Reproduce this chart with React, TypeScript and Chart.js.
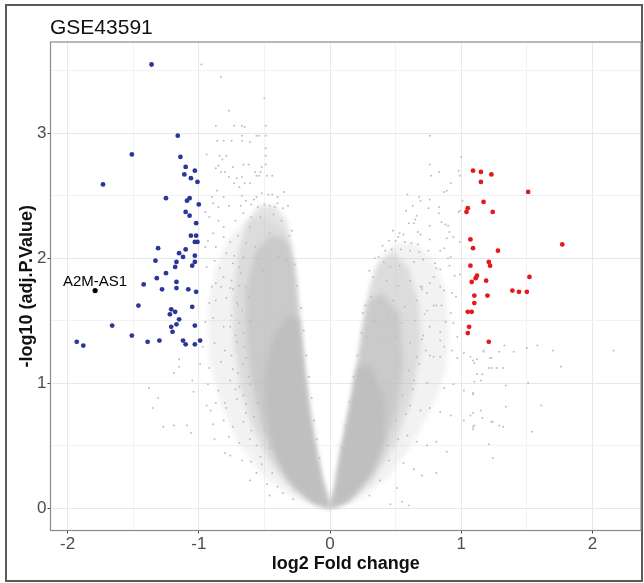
import React, { useEffect, useRef } from 'react';
import { Chart, registerables } from 'chart.js';

// soft edges for the density bands: blur only while the Filler plugin paints them
const bandBlurOn = {
  id: 'bandBlurOn',
  beforeDatasetsDraw(chart: any) {
    chart.ctx.save();
    chart.ctx.filter = 'blur(2.5px)';
  },
};
const bandBlurOff = {
  id: 'bandBlurOff',
  beforeDatasetsDraw(chart: any) {
    chart.ctx.restore();
  },
};
Chart.register(bandBlurOn as any, ...registerables, bandBlurOff as any);

// ---- axis ticks (major = integers, minor = halves) ----
const xTickValues = [-2, -1.5, -1, -0.5, 0, 0.5, 1, 1.5, 2];
const yTickValues = [0, 0.5, 1, 1.5, 2, 2.5, 3, 3.5];

const titleText = 'GSE43591';
const xTitle = 'log2 Fold change';
const yTitle = '-log10 (adj.P.Value)';

// ---- significant genes ----
const downGenes: [number, number][] = [
  [-1.36, 3.55], [-1.16, 2.98], [-1.51, 2.83], [-1.14, 2.81], [-1.10, 2.73], [-1.03, 2.70], [-1.11, 2.67],
  [-1.06, 2.64], [-1.01, 2.61], [-1.73, 2.59], [-1.25, 2.48], [-1.07, 2.48], [-1.09, 2.46], [-1.00, 2.43],
  [-1.10, 2.37], [-1.07, 2.34], [-1.02, 2.28], [-1.06, 2.18], [-1.02, 2.18], [-1.03, 2.13], [-1.01, 2.13],
  [-1.31, 2.08], [-1.10, 2.07], [-1.15, 2.04], [-1.33, 1.98], [-1.12, 2.01], [-1.17, 1.97], [-1.03, 2.02],
  [-1.03, 1.97], [-1.05, 1.94], [-1.18, 1.93], [-1.25, 1.88], [-1.32, 1.84], [-1.17, 1.81], [-1.17, 1.76],
  [-1.42, 1.79], [-1.28, 1.75], [-1.08, 1.75], [-1.02, 1.73], [-1.46, 1.62], [-1.05, 1.61], [-1.21, 1.59],
  [-1.18, 1.57], [-1.22, 1.55], [-1.15, 1.51], [-1.17, 1.47], [-1.21, 1.45], [-1.03, 1.46], [-1.66, 1.46],
  [-1.20, 1.41], [-1.51, 1.38], [-1.39, 1.33], [-1.30, 1.34], [-1.12, 1.34], [-1.10, 1.31], [-1.03, 1.31],
  [-0.99, 1.34], [-1.93, 1.33], [-1.88, 1.30],
];

const upGenes: [number, number][] = [
  [1.09, 2.70], [1.15, 2.69], [1.23, 2.67], [1.15, 2.61], [1.51, 2.53], [1.17, 2.45], [1.05, 2.40],
  [1.04, 2.37], [1.24, 2.37], [1.07, 2.15], [1.77, 2.11], [1.09, 2.08], [1.28, 2.06], [1.21, 1.97],
  [1.22, 1.94], [1.07, 1.94], [1.12, 1.86], [1.11, 1.84], [1.52, 1.85], [1.08, 1.81], [1.19, 1.82],
  [1.39, 1.74], [1.44, 1.73], [1.50, 1.73], [1.10, 1.70], [1.20, 1.70], [1.10, 1.64], [1.05, 1.57],
  [1.08, 1.57], [1.06, 1.45], [1.05, 1.40], [1.21, 1.33],
];

const labelledGeneName = 'A2M-AS1';
const labelledGene: [number, number][] = [[-1.79, 1.74]];

// ---- non-significant genes: scattered points ----
const greyLeftUpper: [number, number][] = [
  [-0.98, 3.55], [-0.83, 3.45], [-0.50, 3.28], [-0.77, 3.18], [-0.87, 3.06], [-0.73, 3.06], [-0.67, 3.06],
  [-0.65, 3.05], [-0.49, 3.06], [-0.56, 2.98], [-0.54, 2.98], [-0.67, 2.98], [-0.49, 2.98], [-0.86, 2.94],
  [-0.81, 2.94], [-0.75, 2.94], [-0.67, 2.94], [-0.61, 2.93], [-0.49, 2.88], [-0.94, 2.83], [-0.84, 2.82],
  [-0.79, 2.82], [-0.49, 2.82], [-0.82, 2.79], [-0.85, 2.74], [-0.74, 2.73], [-0.66, 2.75], [-0.62, 2.75],
  [-0.52, 2.73], [-0.87, 2.72], [-0.57, 2.69], [-0.53, 2.69], [-0.49, 2.75], [-0.83, 2.69], [-0.80, 2.69],
  [-0.56, 2.66], [-0.54, 2.66], [-0.48, 2.66], [-0.44, 2.66], [-0.77, 2.65], [-0.71, 2.64], [-0.67, 2.65],
  [-0.73, 2.60], [-0.65, 2.60], [-0.61, 2.60], [-0.86, 2.54], [-0.69, 2.57], [-0.35, 2.53], [-0.47, 2.51],
  [-0.44, 2.51], [-0.40, 2.49], [-0.90, 2.49], [-0.81, 2.49], [-0.67, 2.50], [-0.64, 2.46], [-0.56, 2.49],
  [-0.77, 2.42], [-0.68, 2.42], [-0.60, 2.43], [-0.55, 2.41], [-0.50, 2.43], [-0.46, 2.42], [-0.42, 2.41],
  [-0.32, 2.42], [-0.89, 2.44], [-0.85, 2.41], [-0.95, 2.37], [-0.92, 2.33], [-0.85, 2.30], [-0.81, 2.25],
  [-0.89, 2.20], [-0.93, 2.14], [-0.95, 2.09], [-0.87, 2.09], [-0.81, 2.17], [-0.76, 2.13], [-0.79, 2.04],
  [-0.88, 1.98], [-0.94, 1.93], [-0.84, 1.92], [-0.74, 1.96], [-0.66, 2.01], [-0.69, 1.93], [-0.81, 1.85],
  [-0.75, 1.82], [-0.87, 1.80], [-0.53, 2.33], [-0.43, 2.35], [-0.37, 2.30], [-0.31, 2.18], [-0.46, 2.20],
  [-0.61, 2.25], [-0.57, 2.09], [-0.39, 2.01], [-0.33, 1.98], [-0.51, 1.90],
  [-0.72, 2.30], [-0.66, 2.36], [-0.60, 2.33], [-0.70, 2.18], [-0.64, 2.12], [-0.73, 2.02], [-0.68, 1.88],
  [-0.29, 2.22], [-0.27, 1.95], [-0.36, 2.40], [-0.58, 2.47], [-0.52, 2.52], [-0.40, 2.44],
];

const greyLeftLower: [number, number][] = [
  [-0.90, 1.77], [-0.83, 1.77], [-0.76, 1.76], [-0.69, 1.78], [-0.64, 1.77], [-0.92, 1.64], [-0.87, 1.66],
  [-0.79, 1.68], [-0.71, 1.64], [-0.62, 1.69], [-0.95, 1.49], [-0.89, 1.52], [-0.81, 1.45], [-0.75, 1.54],
  [-0.69, 1.48], [-0.61, 1.50], [-0.97, 1.29], [-0.88, 1.32], [-0.80, 1.26], [-0.71, 1.33], [-0.65, 1.29],
  [-0.99, 1.15], [-0.92, 1.12], [-0.83, 1.17], [-0.74, 1.11], [-0.66, 1.15], [-1.04, 0.93], [-0.93, 0.99],
  [-0.85, 0.94], [-0.76, 1.02], [-0.69, 0.97], [-0.61, 0.99], [-0.94, 0.82], [-0.87, 0.84], [-0.79, 0.80],
  [-0.71, 0.87], [-0.64, 0.83], [-0.89, 0.67], [-0.81, 0.70], [-0.74, 0.65], [-0.66, 0.69], [-0.58, 0.73],
  [-0.88, 0.55], [-0.77, 0.57], [-0.69, 0.52], [-0.61, 0.55], [-0.76, 0.42], [-0.67, 0.38], [-0.60, 0.37],
  [-0.53, 0.41], [-0.61, 0.22], [-0.48, 0.19], [-0.40, 0.17],
  [-1.15, 1.19], [-1.15, 1.13], [-1.19, 1.08], [-1.38, 0.96], [-1.31, 0.88], [-1.35, 0.80], [-1.27, 0.65],
  [-1.19, 0.66], [-1.06, 0.60], [-1.09, 0.66], [-0.91, 0.78], [-0.80, 0.84], [-0.80, 0.44], [-1.05, 1.02],
  [-0.74, 1.75], [-0.70, 1.62], [-0.76, 1.45], [-0.72, 1.38], [-0.75, 1.22], [-0.70, 1.08], [-0.72, 0.95],
  [-0.66, 0.90], [-0.64, 0.76], [-0.60, 0.62], [-0.56, 0.50], [-0.52, 0.35], [-0.44, 0.28], [-0.36, 0.12],
  [-0.25, 1.78], [-0.22, 1.60], [-0.20, 1.42], [-0.18, 1.22], [-0.16, 1.05], [-0.14, 0.88], [-0.12, 0.70],
  [-0.10, 0.55], [-0.08, 0.40], [-0.67, 1.58], [-0.66, 1.40], [-0.64, 1.20], [-0.62, 1.05], [-0.55, 0.84],
  [-0.50, 0.62], [-0.46, 0.48], [-0.28, 0.07], [-0.56, 0.28], [-0.46, 0.10],
];

const greyRightUpper: [number, number][] = [
  [0.76, 2.98], [1.00, 2.81], [0.76, 2.75], [0.83, 2.69], [0.77, 2.66], [0.98, 2.70], [0.99, 2.66],
  [0.92, 2.60], [0.89, 2.54], [0.87, 2.53], [0.59, 2.51], [0.68, 2.49], [0.69, 2.46], [1.01, 2.46],
  [0.76, 2.47], [0.75, 2.40], [0.83, 2.41], [0.83, 2.36], [0.99, 2.38], [0.98, 2.37], [0.66, 2.34],
  [0.65, 2.31], [0.85, 2.29], [0.88, 2.27], [0.90, 2.26], [0.60, 2.28], [0.64, 2.28], [0.76, 2.26],
  [0.53, 2.20], [0.56, 2.19], [0.52, 2.17], [0.67, 2.21], [0.69, 2.19], [0.91, 2.21], [0.94, 2.17],
  [0.45, 2.14], [0.50, 2.14], [0.57, 2.13], [0.62, 2.12], [0.67, 2.11], [0.76, 2.15], [0.89, 2.16],
  [0.99, 2.13], [0.42, 2.06], [0.47, 2.07], [0.54, 2.07], [0.61, 2.06], [0.68, 2.05], [0.75, 2.06],
  [0.84, 2.06], [0.87, 2.08], [0.92, 2.01], [0.37, 2.01], [0.41, 1.97], [0.46, 1.93], [0.53, 1.94],
  [0.64, 1.97], [0.71, 1.99], [0.80, 1.96], [0.84, 1.91], [0.90, 2.00], [0.95, 1.86], [0.99, 1.87],
  [0.91, 1.94], [0.81, 1.92], [0.79, 1.85], [0.33, 1.85], [0.43, 1.82], [0.52, 1.78], [0.61, 1.82],
  [0.69, 1.77], [0.76, 1.80], [0.87, 1.74], [0.84, 1.77], [0.93, 1.72], [0.96, 1.69], [0.70, 1.77],
  [0.74, 1.72], [0.31, 1.69], [0.38, 1.64], [0.48, 1.66], [0.57, 1.61], [0.66, 1.66], [0.74, 1.58],
  [0.81, 1.62], [0.79, 1.62], [0.85, 1.62], [0.92, 1.56], [0.25, 1.56], [0.34, 1.50], [0.45, 1.53],
  [0.55, 1.48], [0.65, 1.50], [0.76, 1.45], [0.88, 1.49], [0.94, 1.48], [0.84, 1.41], [0.28, 1.37],
  [0.41, 1.34], [0.51, 1.37], [0.61, 1.32], [0.71, 1.38], [0.84, 1.34], [0.97, 1.37], [0.87, 1.29],
  [0.93, 1.26], [0.73, 1.26], [0.79, 1.21], [1.02, 1.24], [1.09, 1.18], [1.17, 1.25], [1.22, 1.20],
  [0.30, 1.90], [0.34, 2.00], [0.27, 1.62], [0.24, 1.40], [0.70, 1.75], [0.72, 1.55], [0.70, 1.35],
  [0.40, 2.10], [0.48, 2.22], [0.58, 2.38], [0.63, 2.42],
];

const greyRightLower: [number, number][] = [
  [0.66, 1.21], [0.76, 1.22], [0.84, 1.21], [0.97, 1.20], [1.07, 1.21], [1.12, 1.19], [0.64, 1.02],
  [0.74, 1.00], [0.87, 0.96], [0.94, 0.99], [1.02, 0.94], [1.09, 0.92], [0.61, 0.82], [0.69, 0.78],
  [0.76, 0.80], [0.84, 0.77], [0.92, 0.74], [1.02, 0.70], [1.09, 0.65], [0.59, 0.58], [0.66, 0.53],
  [0.74, 0.50], [0.81, 0.53], [0.89, 0.45], [0.56, 0.36], [0.64, 0.31], [0.70, 0.26], [0.81, 0.28],
  [0.51, 0.16], [0.55, 0.05], [0.60, 0.02], [0.46, 0.03],
  [1.33, 1.30], [1.50, 1.28], [1.58, 1.30], [1.70, 1.26], [2.16, 1.26], [1.40, 1.25], [1.29, 1.25],
  [1.17, 1.26], [1.76, 1.13], [1.23, 1.20], [1.10, 1.16], [1.21, 1.12], [1.23, 1.12], [1.27, 1.12],
  [1.32, 1.12], [1.12, 1.07], [1.16, 1.07], [1.10, 1.01], [1.15, 1.02], [1.51, 1.00], [1.34, 0.98],
  [1.09, 0.91], [1.61, 0.82], [1.34, 0.81], [1.15, 0.78], [1.09, 0.76], [1.07, 0.74], [1.16, 0.72],
  [1.23, 0.69], [1.24, 0.69], [1.29, 0.66], [1.32, 0.65], [1.10, 0.66], [1.09, 0.63], [1.54, 0.61],
  [1.21, 0.51], [1.24, 0.40],
  [0.21, 1.22], [0.18, 1.05], [0.15, 0.85], [0.12, 0.66], [0.09, 0.48], [0.68, 1.15], [0.63, 0.95],
  [0.58, 0.75], [0.52, 0.55], [0.45, 0.38], [0.38, 0.22], [0.30, 0.10], [0.60, 1.10], [0.55, 0.90],
  [0.50, 0.70], [0.44, 0.50],
];

// ---- outlines of the dense point cloud (density bands) ----
const leftOuter: [number, number][] = [
  [0, 0], [-0.07, 0.3], [-0.15, 0.8], [-0.21, 1.3], [-0.25, 1.75], [-0.29, 2.05], [-0.36, 2.25], [-0.5, 2.33],
  [-0.65, 2.3], [-0.78, 2.15], [-0.88, 1.9], [-0.93, 1.6], [-0.92, 1.2], [-0.84, 0.85], [-0.7, 0.52],
  [-0.5, 0.25], [-0.25, 0.06],
];
const leftMedium: [number, number][] = [
  [0, 0], [-0.065, 0.25], [-0.12, 0.5], [-0.165, 0.8], [-0.2, 1.1], [-0.23, 1.45], [-0.26, 1.8], [-0.29, 2.1],
  [-0.33, 2.3], [-0.42, 2.42], [-0.54, 2.42], [-0.63, 2.3], [-0.7, 2.05], [-0.74, 1.7], [-0.73, 1.3],
  [-0.68, 0.95], [-0.59, 0.65], [-0.47, 0.38], [-0.3, 0.16], [-0.12, 0.03],
];
const leftDense: [number, number][] = [
  [0, 0], [-0.064, 0.227], [-0.115, 0.493], [-0.158, 0.76], [-0.19, 1.03], [-0.22, 1.35], [-0.245, 1.65],
  [-0.27, 1.95], [-0.33, 2.15], [-0.45, 2.18], [-0.57, 2.05], [-0.64, 1.75], [-0.64, 1.4], [-0.6, 1.02],
  [-0.52, 0.66], [-0.41, 0.38], [-0.26, 0.15], [-0.1, 0.03],
];
const leftCore: [number, number][] = [
  [0, 0], [-0.064, 0.227], [-0.115, 0.493], [-0.158, 0.76], [-0.19, 1.03], [-0.215, 1.3], [-0.235, 1.5],
  [-0.32, 1.55], [-0.44, 1.35], [-0.5, 1.05], [-0.49, 0.78], [-0.44, 0.5], [-0.33, 0.24], [-0.14, 0.05],
];
const rightOuter: [number, number][] = [
  [0, 0], [0.05, 0.2], [0.11, 0.5], [0.17, 0.85], [0.22, 1.2], [0.26, 1.5], [0.31, 1.8], [0.38, 2.0],
  [0.5, 2.12], [0.64, 2.12], [0.78, 2.0], [0.88, 1.75], [0.91, 1.4], [0.88, 1.1], [0.8, 0.85], [0.65, 0.55],
  [0.45, 0.25], [0.22, 0.06],
];
const rightMedium: [number, number][] = [
  [0, 0], [0.04, 0.15], [0.1, 0.5], [0.16, 0.85], [0.21, 1.15], [0.255, 1.45], [0.29, 1.72], [0.36, 1.95],
  [0.48, 2.05], [0.6, 1.92], [0.68, 1.62], [0.69, 1.25], [0.62, 0.88], [0.5, 0.52], [0.33, 0.22], [0.12, 0.03],
];
const rightDense: [number, number][] = [
  [0, 0], [0.038, 0.144], [0.076, 0.411], [0.127, 0.677], [0.178, 0.944], [0.215, 1.2], [0.25, 1.45],
  [0.29, 1.65], [0.4, 1.72], [0.53, 1.55], [0.56, 1.15], [0.5, 0.75], [0.38, 0.38], [0.2, 0.12], [0.07, 0.02],
];
const rightCore: [number, number][] = [
  [0, 0], [0.038, 0.144], [0.076, 0.411], [0.127, 0.677], [0.178, 0.944], [0.205, 1.12], [0.3, 1.15],
  [0.42, 0.88], [0.41, 0.55], [0.31, 0.27], [0.14, 0.06],
];

const FONT = "'Liberation Sans', Arial, sans-serif";
const GREY = 'rgb(190,190,190)';

const toPts = (arr: [number, number][]) => arr.map(([x, y]) => ({ x, y }));

const band = (pts: [number, number][], color: string, order: number) => ({
  data: toPts([...pts, pts[0]]),
  showLine: true,
  fill: 'shape',
  backgroundColor: color,
  borderColor: 'rgba(0,0,0,0)',
  borderWidth: 0,
  pointRadius: 0,
  pointHoverRadius: 0,
  order,
});

const dots = (pts: [number, number][], color: string, radius: number, order: number) => ({
  data: toPts(pts),
  backgroundColor: color,
  borderWidth: 0,
  pointRadius: radius,
  pointHoverRadius: radius,
  order,
});

const decorPlugin = {
  id: 'decor',
  beforeDraw(chart: any) {
    const { ctx, width, height } = chart;
    ctx.save();
    ctx.fillStyle = '#ffffff';
    ctx.fillRect(0, 0, width, height);
    ctx.strokeStyle = '#5a5a5a';
    ctx.lineWidth = 2;
    ctx.strokeRect(6, 5, 636, 576);
    ctx.restore();
  },
  afterDatasetsDraw(chart: any) {
    const { ctx, chartArea } = chart;
    ctx.save();
    ctx.strokeStyle = '#8a8a8a';
    ctx.lineWidth = 1.2;
    ctx.strokeRect(chartArea.left, chartArea.top, chartArea.right - chartArea.left, chartArea.bottom - chartArea.top);
    const meta = chart.getDatasetMeta(0);
    const pt = meta.data[0];
    if (pt) {
      ctx.fillStyle = '#000000';
      ctx.font = `15px ${FONT}`;
      ctx.textAlign = 'center';
      ctx.textBaseline = 'alphabetic';
      ctx.fillText(labelledGeneName, pt.x, pt.y - 5);
    }
    ctx.fillStyle = '#111111';
    ctx.font = `21px ${FONT}`;
    ctx.textAlign = 'left';
    ctx.textBaseline = 'alphabetic';
    ctx.fillText(titleText, chartArea.left - 0.5, 33.5);
    ctx.restore();
  },
};

export default function App() {
  const ref = useRef<HTMLCanvasElement | null>(null);

  useEffect(() => {
    document.body.style.margin = '0';
    const canvas = ref.current;
    if (!canvas) return;

    const isMajor = (v: number) => Math.abs(v - Math.round(v)) < 1e-9;

    const datasets: any[] = [
      dots(labelledGene, '#000000', 2.6, 0),
      dots(downGenes, '#2a3799', 2.4, 1),
      dots(upGenes, '#e31a1c', 2.4, 2),
      dots(greyLeftUpper, GREY, 1, 3),
      dots(greyLeftLower, GREY, 1, 4),
      dots(greyRightUpper, GREY, 1, 5),
      dots(greyRightLower, GREY, 1, 6),
      band(leftCore, 'rgba(190,190,190,0.92)', 7),
      band(rightCore, 'rgba(190,190,190,0.92)', 8),
      band(leftDense, 'rgba(190,190,190,0.6)', 9),
      band(rightDense, 'rgba(190,190,190,0.6)', 10),
      band(leftMedium, 'rgba(190,190,190,0.42)', 11),
      band(rightMedium, 'rgba(190,190,190,0.42)', 12),
      band(leftOuter, 'rgba(190,190,190,0.2)', 13),
      band(rightOuter, 'rgba(190,190,190,0.2)', 14),
    ];

    const gridCfg = {
      color: (c: any) => (c.tick && isMajor(c.tick.value) ? '#e8e8e8' : '#f2f2f2'),
      lineWidth: 1,
      drawTicks: true,
      tickLength: 3,
      tickColor: (c: any) => (c.tick && isMajor(c.tick.value) ? '#444444' : 'rgba(0,0,0,0)'),
    };

    const chart = new Chart(canvas, {
      type: 'scatter',
      data: { datasets },
      options: {
        animation: false,
        responsive: false,
        devicePixelRatio: 1,
        events: [],
        layout: { padding: { left: 6, right: 3, top: 42, bottom: 0 } },
        plugins: {
          legend: { display: false },
          tooltip: { enabled: false },
          title: { display: false },
          filler: { drawTime: 'beforeDatasetsDraw' },
        },
        scales: {
          x: {
            type: 'linear',
            min: -2.13,
            max: 2.37,
            afterBuildTicks: (axis: any) => {
              axis.ticks = xTickValues.map((v) => ({ value: v }));
            },
            afterFit: (axis: any) => {
              axis.height = 52.5;
            },
            border: { display: false },
            grid: gridCfg,
            ticks: {
              autoSkip: false,
              maxRotation: 0,
              padding: 1,
              color: '#4d4d4d',
              font: { family: FONT, size: 17 },
              callback: (v: any) => (isMajor(Number(v)) ? String(Math.round(Number(v))) : ''),
            },
            title: {
              display: true,
              text: xTitle,
              color: '#111111',
              font: { family: FONT, size: 18, weight: 'bold' },
              padding: { top: 0, bottom: 8 },
            },
          },
          y: {
            type: 'linear',
            min: -0.18,
            max: 3.73,
            afterBuildTicks: (axis: any) => {
              axis.ticks = yTickValues.map((v) => ({ value: v }));
            },
            afterFit: (axis: any) => {
              axis.width = 44.5;
            },
            border: { display: false },
            grid: gridCfg,
            ticks: {
              autoSkip: false,
              padding: 1,
              color: '#4d4d4d',
              font: { family: FONT, size: 17 },
              callback: (v: any) => (isMajor(Number(v)) ? String(Math.round(Number(v))) : ''),
            },
            title: {
              display: true,
              text: yTitle,
              color: '#111111',
              font: { family: FONT, size: 18, weight: 'bold' },
              padding: { top: 10, bottom: 0 },
            },
          },
        },
      } as any,
      plugins: [decorPlugin],
    });

    return () => {
      chart.destroy();
    };
  }, []);

  return (
    <div style={{ width: 644, height: 583 }}>
      <canvas ref={ref} width={644} height={583} style={{ display: 'block' }} />
    </div>
  );
}
